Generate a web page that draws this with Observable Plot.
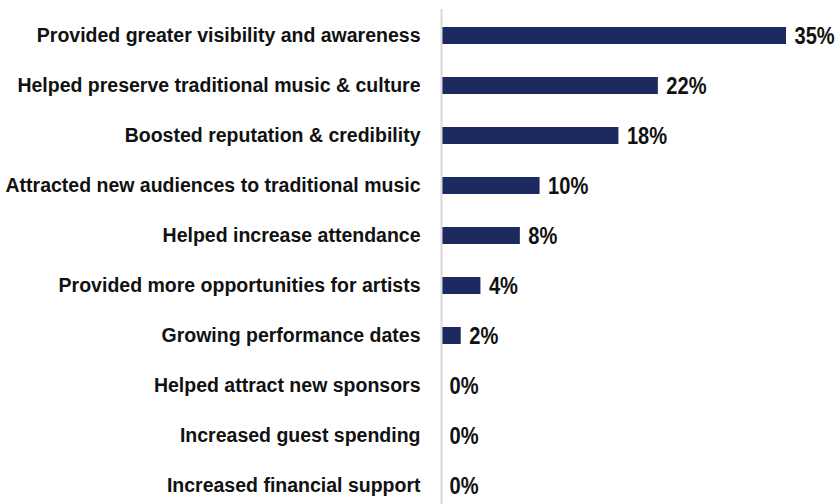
<!DOCTYPE html>
<html>
<head>
<meta charset="utf-8">
<script src="https://cdn.jsdelivr.net/npm/d3@7"></script>
<script src="https://cdn.jsdelivr.net/npm/@observablehq/plot@0.6"></script>
<style>
  html, body { margin: 0; padding: 0; background: #fff; }
  #chart svg { display: block; }
</style>
</head>
<body>
<div id="chart"></div>
<script>
const categories = [
  "Provided greater visibility and awareness",
  "Helped preserve traditional music & culture",
  "Boosted reputation & credibility",
  "Attracted new audiences to traditional music",
  "Helped increase attendance",
  "Provided more opportunities for artists",
  "Growing performance dates",
  "Helped attract new sponsors",
  "Increased guest spending",
  "Increased financial support"
];
const values = [35, 22, 18, 10, 8, 4, 2, 0, 0, 0];
const valueLabels = ["35%", "22%", "18%", "10%", "8%", "4%", "2%", "0%", "0%", "0%"];

const data = categories.map((c, i) => ({category: c, value: values[i], label: valueLabels[i]}));

const chart = Plot.plot({
  width: 838,
  height: 504,
  marginLeft: 441,
  marginRight: 52,
  marginTop: 9,
  marginBottom: 0,
  style: {fontFamily: "'Liberation Sans', Arial, sans-serif", background: "#fff"},
  x: {domain: [0, 35], axis: null},
  y: {domain: categories, range: [9, 512], paddingInner: 0.66, paddingOuter: 0.33, label: null},
  marks: [
    Plot.barX(data, {x: "value", y: "category", fill: "#1c2a5f"}),
    Plot.ruleX([0], {stroke: "#d9d9d9", strokeWidth: 2}),
    Plot.axisY({tickSize: 0, tickPadding: 21, fontSize: 19.5, fontWeight: "bold", fill: "#111", label: null}),
    Plot.text(data, {
      x: "value", y: "category", text: "label", textAnchor: "start", dx: 8,
      fontSize: 24.5, fontWeight: "bold", fill: "#111",
      fontFamily: "'Liberation Sans', Arial, sans-serif"
    })
  ]
});

// condense the value labels horizontally (narrow bold look)
d3.select(chart).selectAll('g[aria-label="text"] text').each(function() {
  const t = d3.select(this);
  const tr = t.attr("transform");
  if (tr) {
    t.attr("transform", tr + " scale(0.82,1)");
  } else {
    const x = +t.attr("x") || 0, y = +t.attr("y") || 0;
    t.attr("x", null).attr("y", null).attr("transform", `translate(${x},${y}) scale(0.82,1)`);
  }
});

document.getElementById("chart").append(chart);
</script>
</body>
</html>
